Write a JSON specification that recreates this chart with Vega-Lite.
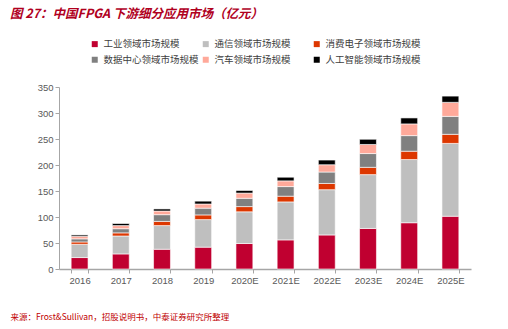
{
  "$schema": "https://vega.github.io/schema/vega-lite/v6.json",
  "width": 412,
  "height": 182,
  "autosize": {"type": "none"},
  "padding": {"left": 59, "top": 87, "right": 37, "bottom": 60},
  "background": "white",
  "title": {
    "text": "图 27：中国FPGA 下游细分应用市场（亿元）",
    "anchor": "start",
    "frame": "group",
    "dx": -49,
    "offset": 19,
    "font": "Noto Sans CJK SC",
    "fontSize": 12.5,
    "fontWeight": "bold",
    "fontStyle": "italic",
    "color": "#B0001E"
  },
  "config": {
    "view": {"stroke": null},
    "font": "Liberation Sans",
    "axis": {
      "labelFont": "Liberation Sans",
      "labelFontSize": 9.5,
      "labelColor": "#595959",
      "domainColor": "#A6A6A6",
      "tickColor": "#A6A6A6",
      "grid": false
    },
    "legend": {
      "labelFont": "Noto Sans CJK SC",
      "labelFontSize": 9.5,
      "labelColor": "#404040"
    }
  },
  "data": {
    "values": [
      {"year": "2016", "seg": "工业领域市场规模", "ord": 1, "v": 22},
      {"year": "2016", "seg": "通信领域市场规模", "ord": 2, "v": 25.5},
      {"year": "2016", "seg": "消费电子领域市场规模", "ord": 3, "v": 4.5},
      {"year": "2016", "seg": "数据中心领域市场规模", "ord": 4, "v": 6},
      {"year": "2016", "seg": "汽车领域市场规模", "ord": 5, "v": 5},
      {"year": "2016", "seg": "人工智能领域市场规模", "ord": 6, "v": 2.5},
      {"year": "2017", "seg": "工业领域市场规模", "ord": 1, "v": 29},
      {"year": "2017", "seg": "通信领域市场规模", "ord": 2, "v": 34.5},
      {"year": "2017", "seg": "消费电子领域市场规模", "ord": 3, "v": 6},
      {"year": "2017", "seg": "数据中心领域市场规模", "ord": 4, "v": 8},
      {"year": "2017", "seg": "汽车领域市场规模", "ord": 5, "v": 6},
      {"year": "2017", "seg": "人工智能领域市场规模", "ord": 6, "v": 4},
      {"year": "2018", "seg": "工业领域市场规模", "ord": 1, "v": 38},
      {"year": "2018", "seg": "通信领域市场规模", "ord": 2, "v": 45.5},
      {"year": "2018", "seg": "消费电子领域市场规模", "ord": 3, "v": 8},
      {"year": "2018", "seg": "数据中心领域市场规模", "ord": 4, "v": 13},
      {"year": "2018", "seg": "汽车领域市场规模", "ord": 5, "v": 7},
      {"year": "2018", "seg": "人工智能领域市场规模", "ord": 6, "v": 4},
      {"year": "2019", "seg": "工业领域市场规模", "ord": 1, "v": 42},
      {"year": "2019", "seg": "通信领域市场规模", "ord": 2, "v": 53},
      {"year": "2019", "seg": "消费电子领域市场规模", "ord": 3, "v": 9},
      {"year": "2019", "seg": "数据中心领域市场规模", "ord": 4, "v": 13},
      {"year": "2019", "seg": "汽车领域市场规模", "ord": 5, "v": 8},
      {"year": "2019", "seg": "人工智能领域市场规模", "ord": 6, "v": 5.5},
      {"year": "2020E", "seg": "工业领域市场规模", "ord": 1, "v": 49},
      {"year": "2020E", "seg": "通信领域市场规模", "ord": 2, "v": 61},
      {"year": "2020E", "seg": "消费电子领域市场规模", "ord": 3, "v": 10},
      {"year": "2020E", "seg": "数据中心领域市场规模", "ord": 4, "v": 16},
      {"year": "2020E", "seg": "汽车领域市场规模", "ord": 5, "v": 10},
      {"year": "2020E", "seg": "人工智能领域市场规模", "ord": 6, "v": 5},
      {"year": "2021E", "seg": "工业领域市场规模", "ord": 1, "v": 56},
      {"year": "2021E", "seg": "通信领域市场规模", "ord": 2, "v": 73},
      {"year": "2021E", "seg": "消费电子领域市场规模", "ord": 3, "v": 11},
      {"year": "2021E", "seg": "数据中心领域市场规模", "ord": 4, "v": 18.5},
      {"year": "2021E", "seg": "汽车领域市场规模", "ord": 5, "v": 11},
      {"year": "2021E", "seg": "人工智能领域市场规模", "ord": 6, "v": 7},
      {"year": "2022E", "seg": "工业领域市场规模", "ord": 1, "v": 65.5},
      {"year": "2022E", "seg": "通信领域市场规模", "ord": 2, "v": 87},
      {"year": "2022E", "seg": "消费电子领域市场规模", "ord": 3, "v": 12},
      {"year": "2022E", "seg": "数据中心领域市场规模", "ord": 4, "v": 22},
      {"year": "2022E", "seg": "汽车领域市场规模", "ord": 5, "v": 14},
      {"year": "2022E", "seg": "人工智能领域市场规模", "ord": 6, "v": 9},
      {"year": "2023E", "seg": "工业领域市场规模", "ord": 1, "v": 78},
      {"year": "2023E", "seg": "通信领域市场规模", "ord": 2, "v": 103.5},
      {"year": "2023E", "seg": "消费电子领域市场规模", "ord": 3, "v": 14},
      {"year": "2023E", "seg": "数据中心领域市场规模", "ord": 4, "v": 26.5},
      {"year": "2023E", "seg": "汽车领域市场规模", "ord": 5, "v": 17.5},
      {"year": "2023E", "seg": "人工智能领域市场规模", "ord": 6, "v": 10},
      {"year": "2024E", "seg": "工业领域市场规模", "ord": 1, "v": 89},
      {"year": "2024E", "seg": "通信领域市场规模", "ord": 2, "v": 121.5},
      {"year": "2024E", "seg": "消费电子领域市场规模", "ord": 3, "v": 16},
      {"year": "2024E", "seg": "数据中心领域市场规模", "ord": 4, "v": 30},
      {"year": "2024E", "seg": "汽车领域市场规模", "ord": 5, "v": 22.5},
      {"year": "2024E", "seg": "人工智能领域市场规模", "ord": 6, "v": 11.5},
      {"year": "2025E", "seg": "工业领域市场规模", "ord": 1, "v": 101.5},
      {"year": "2025E", "seg": "通信领域市场规模", "ord": 2, "v": 140},
      {"year": "2025E", "seg": "消费电子领域市场规模", "ord": 3, "v": 17.5},
      {"year": "2025E", "seg": "数据中心领域市场规模", "ord": 4, "v": 34.5},
      {"year": "2025E", "seg": "汽车领域市场规模", "ord": 5, "v": 27},
      {"year": "2025E", "seg": "人工智能领域市场规模", "ord": 6, "v": 12}
    ]
  },
  "mark": {"type": "bar", "stroke": "white", "strokeWidth": 0.6},
  "encoding": {
    "x": {
      "field": "year",
      "type": "ordinal",
      "sort": null,
      "scale": {"paddingInner": 0.59, "paddingOuter": 0.295},
      "axis": {
        "labelAngle": 0,
        "labelPadding": 2,
        "tickBand": "extent",
        "tickSize": 4,
        "domainWidth": 1.5,
        "title": "来源：Frost&Sullivan，招股说明书，中泰证券研究所整理",
        "titleFont": "Noto Sans CJK SC",
        "titleFontSize": 8.5,
        "titleFontWeight": "normal",
        "titleColor": "#C00000",
        "titleAnchor": "start",
        "titleAlign": "left",
        "titleBaseline": "middle",
        "titleX": -49,
        "titleY": 47
      }
    },
    "y": {
      "field": "v",
      "type": "quantitative",
      "stack": "zero",
      "scale": {"domain": [0, 350], "nice": false},
      "axis": {
        "values": [0, 50, 100, 150, 200, 250, 300, 350],
        "title": null,
        "tickSize": 4,
        "labelPadding": 2
      }
    },
    "color": {
      "field": "seg",
      "type": "nominal",
      "sort": ["工业领域市场规模", "通信领域市场规模", "消费电子领域市场规模", "数据中心领域市场规模", "汽车领域市场规模", "人工智能领域市场规模"],
      "scale": {
        "domain": ["工业领域市场规模", "通信领域市场规模", "消费电子领域市场规模", "数据中心领域市场规模", "汽车领域市场规模", "人工智能领域市场规模"],
        "range": ["#C00030", "#BFBFBF", "#DD3700", "#808080", "#FFA99A", "#000000"]
      },
      "legend": {
        "title": null,
        "orient": "none",
        "direction": "horizontal",
        "columns": 3,
        "gridAlign": "all",
        "columnPadding": 2,
        "rowPadding": 5,
        "symbolType": "square",
        "symbolSize": 36,
        "symbolStrokeWidth": 0,
        "labelOffset": 4,
        "legendX": 31,
        "legendY": -48,
        "padding": 0
      }
    },
    "order": {"field": "ord", "type": "quantitative"}
  }
}
